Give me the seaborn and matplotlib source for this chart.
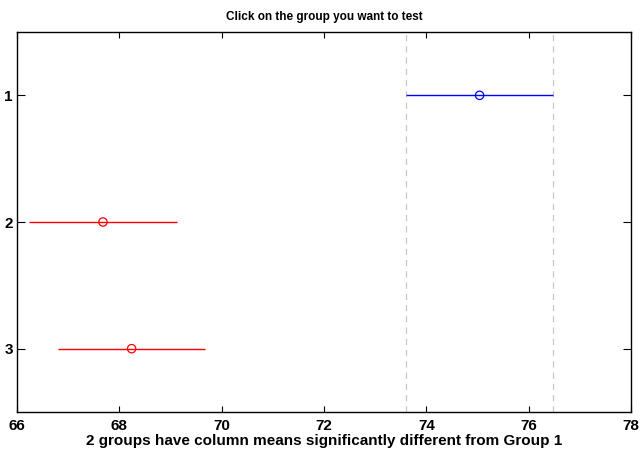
import matplotlib
matplotlib.use("Agg")
import matplotlib.pyplot as plt
import seaborn as sns
import pandas as pd

groups = [1, 2, 3]
means = [75.04, 67.68, 68.24]
half_widths = [1.44, 1.44, 1.44]
colors = ["#0000ff", "#ff0000", "#ff0000"]
xticks = [66, 68, 70, 72, 74, 76, 78]

sns.set_style("white")
plt.rcParams['font.family'] = ['Liberation Sans', 'DejaVu Sans']
plt.rcParams['text.color'] = 'black'
plt.rcParams['axes.labelcolor'] = 'black'
plt.rcParams['xtick.color'] = 'black'
plt.rcParams['ytick.color'] = 'black'

df = pd.DataFrame({"group": groups, "mean": means, "hw": half_widths, "color": colors})
df["lo"] = df["mean"] - df["hw"]
df["hi"] = df["mean"] + df["hw"]

fig = plt.figure(figsize=(6.44, 4.54), dpi=100)
ax = fig.add_axes([0.0264, 0.0925, 0.9535, 0.837])

# reference interval lines for group 1
ref = df.iloc[0]
for xv in (ref["lo"], ref["hi"]):
    ax.axvline(xv, color="#c8c8c8", linestyle=(0, (5, 4)), linewidth=0.9, zorder=1)

ax.hlines(df["group"], df["lo"], df["hi"], colors=df["color"], linewidth=1.0, zorder=2)
sns.scatterplot(data=df, x="mean", y="group", hue="group",
                palette=dict(zip(df["group"], df["color"])),
                marker="o", s=36, linewidth=0.9,
                legend=False, ax=ax, zorder=3)
coll = ax.collections[-1]
coll.set_facecolor("none")
coll.set_edgecolor(df["color"].tolist())

ax.set_xlim(66, 78)
ax.set_ylim(3.5, 0.5)
ax.set_xticks(xticks)
ax.set_xticklabels([str(t) for t in xticks], fontsize=11, fontweight="bold", color="black")
ax.set_yticks(groups)
ax.set_yticklabels([str(g) for g in groups], fontsize=11, fontweight="bold", color="black")
ax.tick_params(axis="x", direction="in", length=4.3, width=0.8, top=True, bottom=True,
               color="black", pad=5)
ax.tick_params(axis="y", direction="in", length=5.5, width=0.8, left=True, right=True,
               color="black", pad=3)
for sp in ax.spines.values():
    sp.set_visible(True)
    sp.set_color("black")
    sp.set_linewidth(1.0)
ax.set_xlabel("2 groups have column means significantly different from Group 1",
              fontsize=11, fontweight="bold", labelpad=1, color="black")
ax.set_ylabel("")
ax.set_title("Click on the group you want to test", fontsize=8.5, fontweight="bold",
             pad=9, color="black")

fig.savefig("out.png", dpi=100)
